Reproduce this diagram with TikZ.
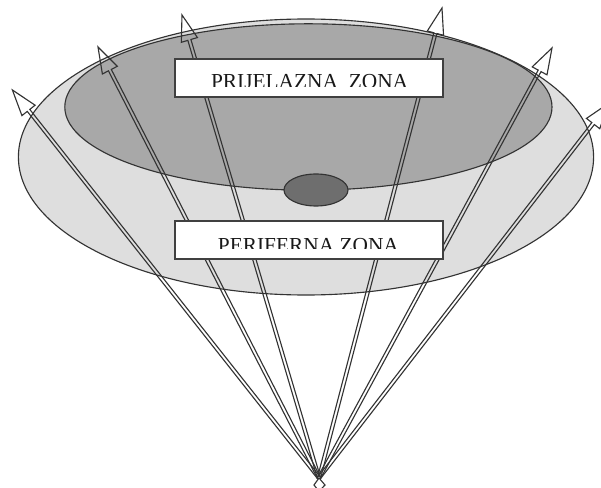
\documentclass[tikz,border=0pt]{standalone}
\usepackage{fontspec}
\setmainfont{Liberation Serif}
\usetikzlibrary{calc}
\tikzset{
         zrakaline/.style={line width=.8pt,draw=black!80},
         zonabox/.style={line width=1pt,draw=black!75,fill=white},
         zonatext/.style={font=\fontsize{15.2}{18}\selectfont,text=black!90}
        }
\begin{document}
\begin{tikzpicture}
\useasboundingbox(0,0)rectangle(15.025,12.2);
\clip(0,0)rectangle(15.025,12.2);
\draw[zrakaline,fill=black!13](7.65,8.275)ellipse(7.19 and 3.45);
\draw[zrakaline,fill=black!34](7.71,9.525)ellipse(6.09 and 2.08);
\draw[zrakaline,fill=black!57](7.9,7.45)ellipse(.8 and .4);
\coordinate(izvor)at(7.975,.25);
% rays, all from the same point
\foreach \x/\y in {.31/9.95,2.45/11.025,4.55/11.825,11.05/12,13.8/11,15.225/9.625}
 {
  \coordinate(vrh)at(\x,\y);
  \coordinate(baza)at($(vrh)!.65cm!(izvor)$);
  \draw[zrakaline]($(izvor)!.04cm!-90:(vrh)$)--($(baza)!.04cm!-90:(vrh)$)
   --($(baza)!.21cm!-90:(vrh)$)--(vrh)--($(baza)!.21cm!90:(vrh)$)
   --($(baza)!.04cm!90:(vrh)$)--($(izvor)!.04cm!90:(vrh)$);
 }
\draw[zrakaline](izvor)--(7.85,.075)--(7.975,-.08)--(8.125,.075)--cycle;
\draw[zonabox](4.375,9.775)rectangle(11.075,10.725);
\draw[zonabox](4.375,5.725)rectangle(11.075,6.675);
\begin{scope}
\clip(4.4,10.03)rectangle(11.05,10.7);
\node[zonatext,anchor=base](prijelazna)at(7.74,9.975){PRIJELAZNA\ \ ZONA};
\end{scope}
\begin{scope}
\clip(4.4,5.975)rectangle(11.05,6.65);
\node[zonatext,anchor=base](periferna)at(7.71,5.875){PERIFERNA ZONA};
\end{scope}
\end{tikzpicture}
\end{document}
